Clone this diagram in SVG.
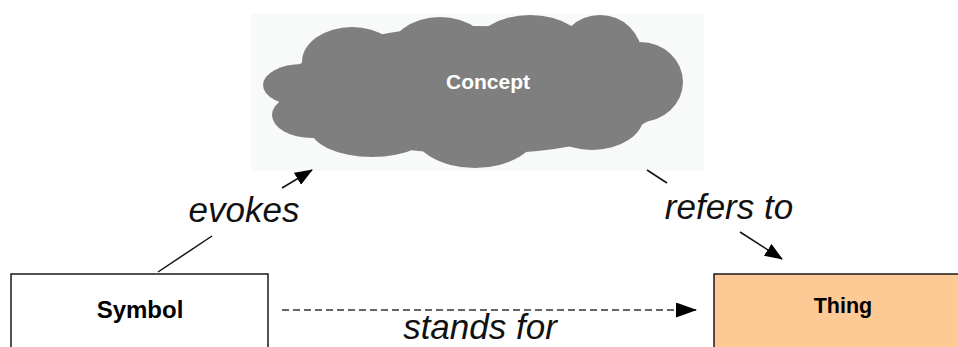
<svg xmlns="http://www.w3.org/2000/svg" width="958" height="347" viewBox="0 0 958 347">
<style>
.bg{fill:#ffffff}
.cloud ellipse{fill:#7f7f7f}
.node{stroke:#1a1a1a;stroke-width:1.5}
.lbl{font-family:"Liberation Sans",Arial,sans-serif;font-weight:bold;text-anchor:middle}
.edge{font-family:"Liberation Sans",Arial,sans-serif;font-style:italic;font-size:35px;fill:#111;text-anchor:middle}
.ln{stroke:#111;stroke-width:1.5;fill:none}
.dash{stroke:#333;stroke-width:1.5;fill:none;stroke-dasharray:7 4}
</style>
<defs>
<marker id="ah" markerWidth="18" markerHeight="14" refX="17" refY="7" orient="auto" markerUnits="userSpaceOnUse">
<path d="M0,0 L18,7 L0,14 Z" fill="#000"/>
</marker>
<marker id="ahd" markerWidth="21" markerHeight="15" refX="21" refY="7.5" orient="auto" markerUnits="userSpaceOnUse">
<path d="M0,0 L21,7.5 L0,15 Z" fill="#000"/>
</marker>
</defs>
<rect class="bg" x="0" y="0" width="958" height="347"/>
<g id="concept">
<rect x="251" y="14" width="453" height="157" fill="#f7faf8"/>
<g class="cloud">
<ellipse cx="478" cy="90" rx="195" ry="64"/>
<ellipse cx="302" cy="85" rx="39" ry="21"/>
<ellipse cx="312" cy="115" rx="40" ry="23"/>
<ellipse cx="352" cy="62" rx="50" ry="35"/>
<ellipse cx="440" cy="56" rx="52" ry="39"/>
<ellipse cx="530" cy="52" rx="58" ry="37"/>
<ellipse cx="600" cy="56" rx="42" ry="41"/>
<ellipse cx="640" cy="82" rx="43" ry="40"/>
<ellipse cx="592" cy="115" rx="52" ry="35"/>
<ellipse cx="475" cy="128" rx="64" ry="40"/>
<ellipse cx="372" cy="128" rx="62" ry="29"/>
</g>
<text class="lbl" x="488" y="89" font-size="21" fill="#ffffff">Concept</text>
</g>
<g id="symbol">
<rect class="node" x="11" y="274" width="257" height="80" fill="#ffffff"/>
<text class="lbl" x="140" y="318" font-size="24" fill="#000">Symbol</text>
</g>
<g id="thing">
<rect class="node" x="714" y="274" width="260" height="80" fill="#fdca96"/>
<text class="lbl" x="843" y="313" font-size="21.5" fill="#000">Thing</text>
</g>
<g id="connectors">
<line class="ln" x1="158" y1="272" x2="212" y2="236"/>
<line class="ln" x1="282" y1="188" x2="312" y2="170" marker-end="url(#ah)"/>
<line class="ln" x1="647" y1="170" x2="667" y2="183"/>
<line class="ln" x1="740" y1="232" x2="782" y2="259" marker-end="url(#ah)"/>
<line class="dash" x1="282" y1="310" x2="697" y2="310" marker-end="url(#ahd)"/>
<text class="edge" x="244" y="222">evokes</text>
<text class="edge" x="729" y="219">refers to</text>
<text class="edge" x="480" y="339" font-size="34">stands for</text>
</g>
</svg>
